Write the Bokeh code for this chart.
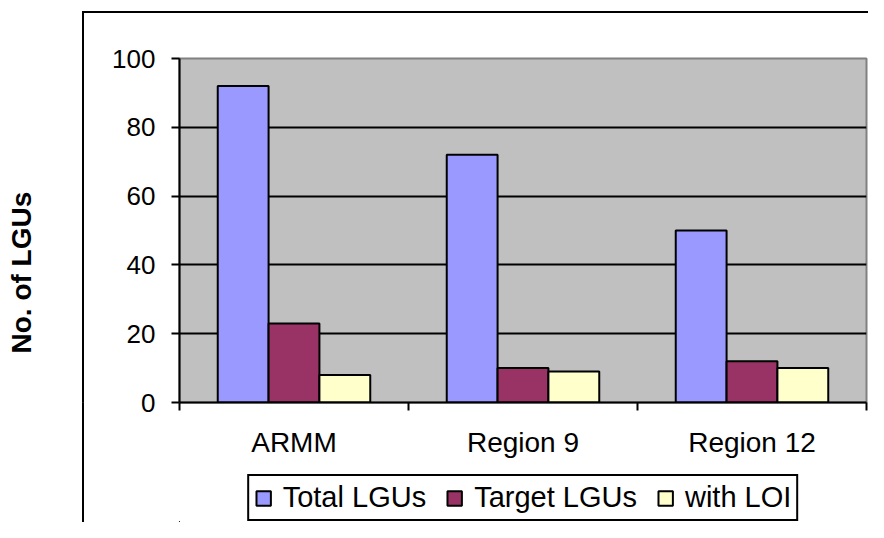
from bokeh.plotting import figure
from bokeh.layouts import column
from bokeh.models import (Range1d, FixedTicker, Legend, LegendItem, Title,
                          LinearAxis, ColumnDataSource)
from bokeh.embed import file_html
from bokeh.resources import INLINE

categories = ["ARMM", "Region 9", "Region 12"]
series_names = ["Total LGUs", "Target LGUs", "with LOI"]
total_lgus = [92, 72, 50]
target_lgus = [23, 10, 12]
with_loi = [8, 9, 10]
y_ticks = [0, 20, 40, 60, 80, 100]
colors = ["#9999FF", "#993366", "#FFFFCC"]
y_label = "No. of LGUs"

FONT = "Liberation Sans"

p = figure(width=868, height=462, output_backend="svg", toolbar_location=None,
           x_range=Range1d(0, len(categories)), y_range=Range1d(0, 100),
           min_border_left=179, min_border_right=2, min_border_top=58,
           min_border_bottom=60,
           background_fill_color="#C0C0C0", border_fill_color=None)
p.outline_line_color = "#808080"
p.outline_line_width = 2
# outer chart-area border (left and top edges), drawn behind the transparent canvas
p.styles = {
    "background-image": "linear-gradient(#000, #000), linear-gradient(#000, #000)",
    "background-size": "2px 100%, 100% 2px",
    "background-position": "82px 12px, 82px 11px",
    "background-repeat": "no-repeat",
    "background-color": "white",
}

centers = [i + 0.5 for i in range(len(categories))]
bw = 0.222
offsets = [-bw, 0.0, bw]
series = [total_lgus, target_lgus, with_loi]
for vals, off, col in zip(series, offsets, colors):
    src = ColumnDataSource(dict(x=[c + off for c in centers], top=vals))
    p.vbar(x="x", top="top", bottom=0, width=bw, source=src,
           fill_color=col, line_color="black", line_width=2)

# x axis: labels at category centres, ticks at category boundaries
xa = p.xaxis[0]
xa.ticker = FixedTicker(ticks=centers, minor_ticks=list(range(len(categories) + 1)))
xa.major_label_overrides = {c: name for c, name in zip(centers, categories)}
xa.major_tick_out = 0
xa.major_tick_in = 0
xa.minor_tick_out = 8
xa.minor_tick_in = 0
xa.minor_tick_line_color = "black"
xa.minor_tick_line_width = 2
xa.axis_line_color = "black"
xa.axis_line_width = 2
xa.major_label_text_font = FONT
xa.major_label_text_font_size = "28px"
xa.major_label_text_color = "black"
xa.major_label_standoff = 16

ya = p.yaxis[0]
ya.ticker = FixedTicker(ticks=y_ticks)
ya.major_tick_out = 8
ya.major_tick_in = 0
ya.major_tick_line_width = 2
ya.major_tick_line_color = "black"
ya.minor_tick_line_color = None
ya.axis_line_color = "black"
ya.axis_line_width = 2
ya.major_label_text_font = FONT
ya.major_label_text_font_size = "26px"
ya.major_label_text_color = "black"
ya.major_label_standoff = 16

p.xgrid.visible = False
p.ygrid.ticker = FixedTicker(ticks=y_ticks[1:-1])
p.ygrid.grid_line_color = "black"
p.ygrid.grid_line_width = 2

# left side: an invisible spacer axis, then the rotated axis title
spacer = LinearAxis(ticker=FixedTicker(ticks=[y_ticks[0]]), major_tick_out=73, major_tick_in=0,
                    axis_line_color=None, major_tick_line_color="white",
                    major_tick_line_width=0.1, minor_tick_line_color=None,
                    major_label_text_color=None, major_label_standoff=0)
p.add_layout(spacer, "left")
p.add_layout(Title(text=y_label, align="left", offset=49, vertical_align="bottom",
                   standoff=0, text_font=FONT, text_font_style="bold",
                   text_font_size="28px", text_color="black"), "left")

# legend strip below the chart; its proxy bars lie far outside its view range
lf = figure(width=868, height=60, output_backend="svg", toolbar_location=None,
            x_range=Range1d(100, 103), y_range=Range1d(1000, 1001),
            x_axis_type=None, y_axis_type=None,
            min_border_left=179, min_border_right=2, min_border_top=0, min_border_bottom=0,
            background_fill_color=None, border_fill_color=None)
lf.outline_line_color = None
lf.xgrid.visible = False
lf.ygrid.visible = False
lf.styles = {
    "background-image": "linear-gradient(#000, #000)",
    "background-size": "2px 100%",
    "background-position": "82px 0px",
    "background-repeat": "no-repeat",
    "background-color": "white",
}
items = []
for name, vals, off, col in zip(series_names, series, offsets, colors):
    src = ColumnDataSource(dict(x=[c + off for c in centers], top=vals))
    r = lf.vbar(x="x", top="top", bottom=0, width=bw, source=src,
                fill_color=col, line_color="black", line_width=2)
    items.append(LegendItem(label=name, renderers=[r]))
legend = Legend(items=items, orientation="horizontal", location="bottom_center", margin=1,
                label_text_font=FONT, label_text_font_size="29px", label_text_color="black",
                glyph_width=18, glyph_height=18, label_standoff=11, spacing=19,
                padding=5, border_line_color="black", border_line_width=2,
                border_line_alpha=1.0, background_fill_color="white",
                background_fill_alpha=1.0)
lf.add_layout(legend)

open("out.html", "w").write(file_html(column(p, lf, spacing=0), INLINE))
